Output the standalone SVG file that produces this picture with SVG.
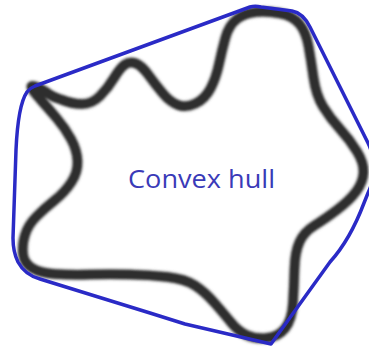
<svg xmlns="http://www.w3.org/2000/svg" width="369" height="347" viewBox="0 0 369 347">
  <style>
    .blob { fill: none; stroke: #2e2e2e; stroke-width: 9.5; stroke-linejoin: round; stroke-linecap: round; }
    .halo { fill: none; stroke: #777; stroke-width: 12.5; stroke-opacity: 0.35; stroke-linejoin: round; }
    .hull { fill: none; stroke: #2a2ac6; stroke-width: 3.5; stroke-linejoin: round; }
    .label { font-family: "Open Sans", "Liberation Sans", sans-serif; font-size: 25px; fill: #3a3ab8; }
  </style>
  <defs>
    <filter id="soft" x="-10%" y="-10%" width="120%" height="120%">
      <feGaussianBlur stdDeviation="1.1"/>
    </filter>
    <path id="blob-path" d="M40,99 C34,92 30,87 32,86 C34,85 40,88 46,92 Q52,97 61,99.5 Q72,104 82,104 Q92,104 100,96 Q108,88 114,78 Q120,68 125,64.5 Q130,61 136,63.5 Q142,66 148.5,75 Q155,84 162.5,93 Q170,102 178,105 Q186,108 195.5,103.5 Q205,99 210.5,88.5 Q216,78 219,64 Q222,50 225.5,37.5 Q229,25 237,19 Q245,13 256.5,12 Q268,11 280.5,13.5 Q293,16 299.5,24 Q306,32 308.5,46 Q311,60 313.5,77.5 Q316,95 323,106.5 Q330,118 340,129 Q350,140 357,151.5 Q364,163 363.5,172.5 Q363,182 356.5,191 Q350,200 337.5,209.5 Q325,219 314.5,225.5 Q304,232 299.5,242 Q295,252 294.5,268.5 Q294,285 293,302.5 Q292,320 285,328.5 Q278,337 266.5,338 Q255,339 246.5,335 Q238,331 231.5,323 Q225,315 215,303.5 Q205,292 195,285.5 Q185,279 167.5,277 Q150,275 130,274.5 Q110,274 90,274.5 Q70,275 55,274 Q40,273 32,268 Q24,263 23,254 Q22,245 25,235 Q28,225 36.5,216.5 Q45,208 55,200 Q65,192 71.5,182 Q78,172 77.5,161 Q77,150 71,139 Q65,128 56.5,118 Q48,108 40,99 Z"/>
  </defs>
  <rect width="369" height="347" fill="#ffffff"/>
  <g id="shape" filter="url(#soft)">
    <use href="#blob-path" class="halo"/>
    <use href="#blob-path" class="blob"/>
  </g>
  <g id="convex-hull">
    <path class="hull" d="M35,86 L250,7 Q255,5.5 261,7 L292,11 Q303,13 310,27 L368,143 Q380,168 368,193 L364,203 Q350,240 330,262 L271,344 L185,324 L150,313 L40,279 Q25,275 18,262 Q13,252 13,238 L16,150 Q18,105 27,92 Q30,88 35,86 Z"/>
  </g>
  <g id="label">
    <text class="label" x="128" y="188" textLength="147" lengthAdjust="spacingAndGlyphs">Convex hull</text>
  </g>
</svg>
